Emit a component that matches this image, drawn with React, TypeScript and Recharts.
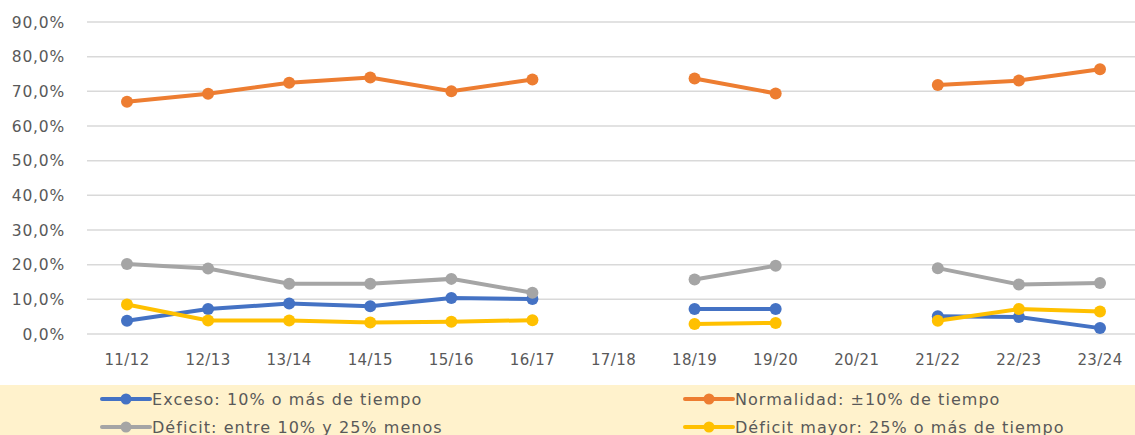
import React from "react";
import { LineChart, Line, XAxis, YAxis, CartesianGrid, Legend } from "recharts";

const categories = ["11/12", "12/13", "13/14", "14/15", "15/16", "16/17", "17/18", "18/19", "19/20", "20/21", "21/22", "22/23", "23/24"];
const exceso = [3.8, 7.2, 8.8, 8.0, 10.4, 10.1, null, 7.2, 7.2, null, 5.1, 4.9, 1.7];
const normalidad = [67.0, 69.3, 72.5, 74.0, 70.0, 73.4, null, 73.7, 69.4, null, 71.8, 73.1, 76.4];
const deficit = [20.2, 18.9, 14.5, 14.5, 15.9, 11.9, null, 15.7, 19.7, null, 19.0, 14.3, 14.7];
const deficitMayor = [8.5, 3.9, 3.9, 3.3, 3.5, 4.0, null, 2.9, 3.2, null, 3.8, 7.2, 6.5];
const yTicks = [0, 10, 20, 30, 40, 50, 60, 70, 80, 90];

const seriesNames = {
  exceso: "Exceso: 10% o más de tiempo",
  normalidad: "Normalidad: ±10% de tiempo",
  deficit: "Déficit: entre 10% y 25% menos",
  deficitMayor: "Déficit mayor: 25% o más de tiempo",
};
const colors = {
  exceso: "#4472C4",
  normalidad: "#ED7D31",
  deficit: "#A5A5A5",
  deficitMayor: "#FFC000",
};

const data = categories.map((c, i) => ({
  name: c,
  exceso: exceso[i],
  normalidad: normalidad[i],
  deficit: deficit[i],
  deficitMayor: deficitMayor[i],
}));

const FONT = "'DejaVu Sans', sans-serif";
const TEXT = "#595959";

const fmt = (v: number) => v.toFixed(1).replace(".", ",") + "%";

const LegendItem = ({ k, x, y }: { k: keyof typeof colors; x: number; y: number }) => (
  <div style={{ position: "absolute", left: x, top: y - 10, height: 20, display: "flex", alignItems: "center" }}>
    <svg width={52} height={14} style={{ display: "block" }}>
      <line x1={2} y1={7} x2={50} y2={7} stroke={colors[k]} strokeWidth={4} strokeLinecap="round" />
      <circle cx={26} cy={7} r={5.5} fill={colors[k]} />
    </svg>
    <span style={{ fontFamily: FONT, fontSize: 16, letterSpacing: 1.05, color: TEXT, marginLeft: 0, whiteSpace: "nowrap" }}>{seriesNames[k]}</span>
  </div>
);

const CustomLegend = () => (
  <div style={{ position: "relative", width: 1135, height: 50, background: "#FFF2CC", overflow: "hidden" }}>
    <LegendItem k="exceso" x={100} y={14} />
    <LegendItem k="normalidad" x={683} y={14} />
    <LegendItem k="deficit" x={100} y={42} />
    <LegendItem k="deficitMayor" x={683} y={42} />
  </div>
);

export default function App() {
  const keys: (keyof typeof colors)[] = ["exceso", "normalidad", "deficit", "deficitMayor"];
  return (
    <div style={{ position: "absolute", left: 0, top: 0, width: 1135, height: 435, overflow: "hidden", background: "#fff" }}>
      <LineChart width={1141} height={435} data={data} margin={{ top: 22, right: 0, left: 0, bottom: 0 }}>
        <CartesianGrid vertical={false} stroke="#D9D9D9" strokeWidth={1.5} />
        <XAxis
          dataKey="name"
          height={51}
          axisLine={false}
          tickLine={false}
          tickMargin={14}
          padding={{ left: 40, right: 41 }}
          tick={{ fontFamily: FONT, fontSize: 15, fill: TEXT, letterSpacing: 0.4 }}
          interval={0}
        />
        <YAxis
          width={87}
          domain={[0, 90]}
          ticks={yTicks}
          axisLine={false}
          tickLine={false}
          tickSize={0}
          tickMargin={22}
          tickFormatter={fmt}
          tick={{ fontFamily: FONT, fontSize: 15.5, fill: TEXT, letterSpacing: 0.8 }}
        />
        <Legend
          verticalAlign="bottom"
          height={50}
          wrapperStyle={{ left: 0, bottom: 0, width: 1135 }}
          content={() => <CustomLegend />}
        />
        {keys.map((k) => (
          <Line
            key={k}
            dataKey={k}
            name={seriesNames[k]}
            stroke={colors[k]}
            strokeWidth={4}
            dot={{ r: 6, fill: colors[k], stroke: colors[k], strokeWidth: 0 }}
            activeDot={false}
            connectNulls={false}
            isAnimationActive={false}
          />
        ))}
      </LineChart>
    </div>
  );
}
